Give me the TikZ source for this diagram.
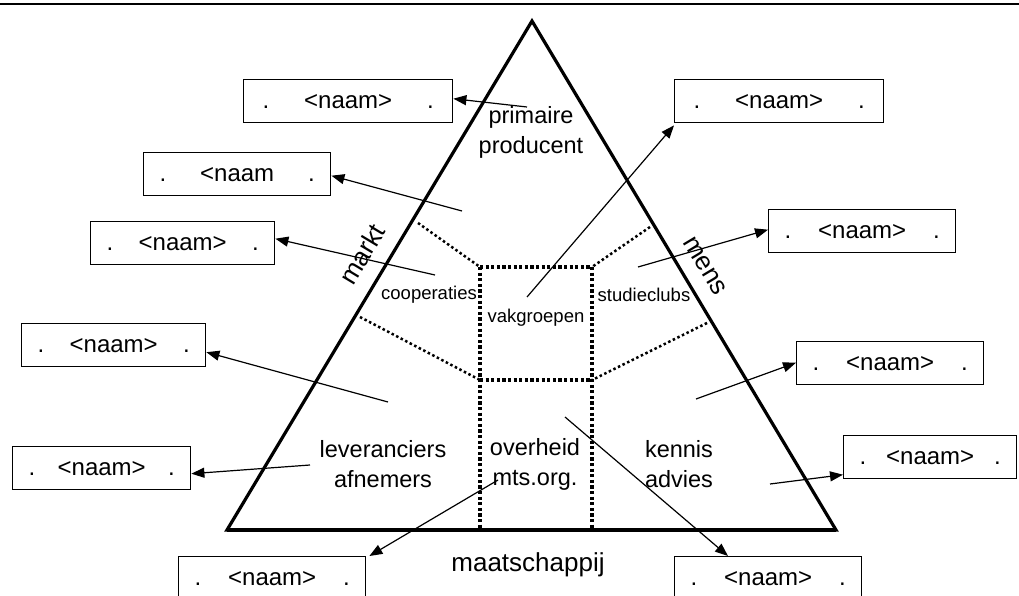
\documentclass[tikz,border=0pt]{standalone}
\usepackage{fontspec}
\setmainfont{Liberation Sans}
\usetikzlibrary{arrows.meta}
\newcommand{\nmbox}[2]{\makebox[#1]{.\hfill#2\hfill.}}
\begin{document}
\begin{tikzpicture}[x=1pt,y=-1pt,
  box/.style={draw,line width=1.4pt,minimum height=43pt,inner sep=0pt,anchor=north west,font=\fontsize{24}{28}\selectfont},
  arr/.style={line width=1.2pt,-{Triangle[length=13pt,width=10pt]}},
  dots/.style={line width=3.2pt,dash pattern=on 3.2pt off 2.4pt},
  sdots/.style={line width=2.5pt,dash pattern=on 2.5pt off 2.6pt},
  lbl/.style={font=\fontsize{23.5}{30}\selectfont,align=center,inner sep=0pt},
  sml/.style={font=\fontsize{18.5}{22}\selectfont,inner sep=0pt},
  side/.style={font=\fontsize{26}{28}\selectfont,inner sep=0pt}]
\useasboundingbox (0,0) rectangle (1019,596);
\clip (0,0) rectangle (1019,596);
% top rule
\coordinate (tl) at (0,4);
\coordinate (tr) at (1019,4);
\draw[line width=2.6pt] (tl) -- (tr);
% triangle
\coordinate (apex) at (532,21);
\coordinate (bl) at (227,530);
\coordinate (br) at (836,530);
\draw[line width=3.2pt,line join=miter] (apex) -- (bl) -- (br) -- cycle;
\draw[line width=4pt] (bl) -- (br);
% dotted partitions
\coordinate (r1) at (480,267);
\coordinate (r2) at (592,267);
\coordinate (r3) at (480,380);
\coordinate (r4) at (592,380);
\coordinate (r5) at (480,528);
\coordinate (r6) at (592,528);
\coordinate (ul) at (418,223);
\coordinate (ll) at (360,317);
\coordinate (ur) at (650,227);
\coordinate (lr) at (707,323);
\draw[dots] (r1) -- (r2);
\draw[dots] (r3) -- (r4);
\draw[dots] (r1) -- (r5);
\draw[dots] (r2) -- (r6);
\draw[sdots] (ul) -- (r1);
\draw[sdots] (ll) -- (r3);
\draw[sdots] (ur) -- (r2);
\draw[sdots] (lr) -- (r4);
% labels
\node[lbl] (prim) at (531,132) {primaire\\producent};
\node[lbl] (lev) at (383,464) {leveranciers\\afnemers};
\node[lbl] (ovh) at (535,464) {overheid\\mts.org.};
\node[lbl] (ken) at (679,464) {kennis\\advies};
\node[sml] (coop) at (429,295) {cooperaties};
\node[sml] (vak) at (536,318) {vakgroepen};
\node[sml] (stud) at (644,295) {studieclubs};
\node[side] (maat) at (528,565) {maatschappij};
\node[side,rotate=59] (markt) at (362,254) {markt};
\node[side,rotate=-59] (mens) at (705,266) {mens};
% boxes
\node[box,minimum width=209pt] (b1) at (243,79) {\nmbox{171pt}{<naam>}};
\node[box,minimum width=187pt] (b2) at (143,152) {\nmbox{155pt}{<naam}};
\node[box,minimum width=184pt] (b3) at (90,221) {\nmbox{152pt}{<naam>}};
\node[box,minimum width=184pt] (b4) at (21,323) {\nmbox{152pt}{<naam>}};
\node[box,minimum width=178pt] (b5) at (12,446) {\nmbox{146pt}{<naam>}};
\node[box,minimum width=187pt] (b6) at (178,556) {\nmbox{155pt}{<naam>}};
\node[box,minimum width=187pt] (b7) at (674,556) {\nmbox{155pt}{<naam>}};
\node[box,minimum width=209pt] (b8) at (674,79) {\nmbox{171pt}{<naam>}};
\node[box,minimum width=187pt] (b9) at (768,209) {\nmbox{155pt}{<naam>}};
\node[box,minimum width=187pt] (b10) at (796,341) {\nmbox{155pt}{<naam>}};
\node[box,minimum width=173pt] (b11) at (843,435) {\nmbox{141pt}{<naam>}};
% arrow start points
\coordinate (s1) at (527,107);
\coordinate (s2) at (462,211);
\coordinate (s3) at (435,275);
\coordinate (s4) at (388,402);
\coordinate (s5) at (310,465);
\coordinate (s6) at (498,480);
\coordinate (s7) at (565,417);
\coordinate (s8) at (527,297);
\coordinate (s9) at (638,267);
\coordinate (s10) at (696,399);
\coordinate (s11) at (770,484);
% arrows
\draw[arr] (s1) -- ([yshift=2.5pt]b1.east);
\draw[arr] (s2) -- ([yshift=-1.5pt]b2.east);
\draw[arr] (s3) -- ([yshift=4.5pt]b3.east);
\draw[arr] (s4) -- ([yshift=-7pt]b4.east);
\draw[arr] (s5) -- ([yshift=-5.5pt]b5.east);
\draw[arr] (s6) -- ([xshift=3pt]b6.north east);
\draw[arr] (s7) -- ([xshift=54pt]b7.north west);
\draw[arr] (s8) -- ([yshift=-2pt]b8.south west);
\draw[arr] (s9) -- ([yshift=1.5pt]b9.west);
\draw[arr] (s10) -- ([yshift=0.5pt]b10.west);
\draw[arr] (s11) -- ([yshift=-17.5pt]b11.west);
\end{tikzpicture}
\end{document}
